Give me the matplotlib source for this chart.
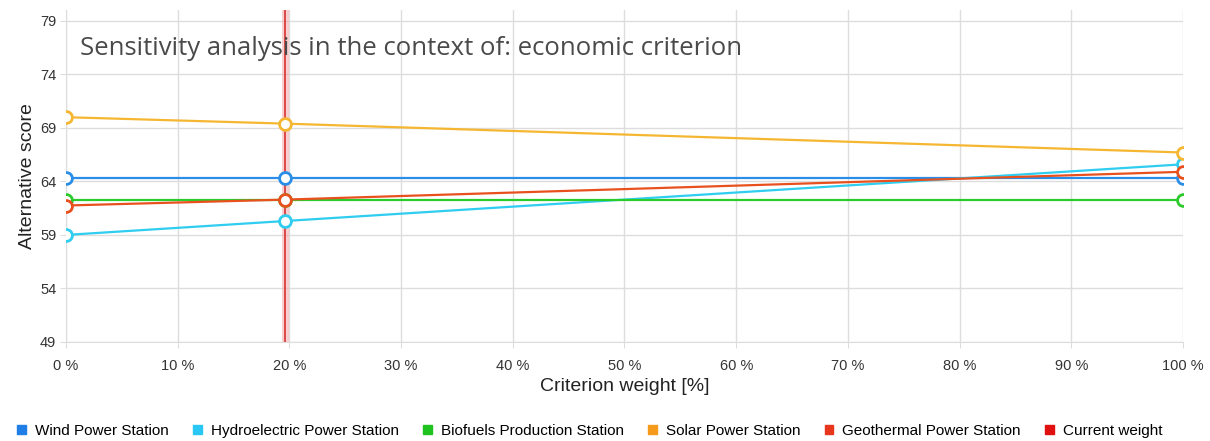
import matplotlib.pyplot as plt
from matplotlib.patches import Patch

# dane z wykresu
weights = [0, 19.6, 100]
current_weight = 19.6
series_names = ["Wind Power Station", "Hydroelectric Power Station", "Biofuels Production Station",
                "Solar Power Station", "Geothermal Power Station"]
wind = [64.3, 64.3, 64.3]
hydro = [59.0, 60.3, 65.6]
biofuels = [62.3, 62.3, 62.3]
solar = [70.0, 69.4, 66.7]
geothermal = [61.75, 62.3, 64.9]
colors = ["#2a8ee8", "#2fcdf0", "#2ccb2c", "#f5b732", "#e8501e"]
legend_colors = ["#1f7fe6", "#29c8f4", "#1fc21f", "#f59a1a", "#e8361c", "#e01010"]
x_ticks = list(range(0, 101, 10))
y_ticks = [49, 54, 59, 64, 69, 74, 79]

fig = plt.figure(figsize=(12.1, 4.41), dpi=100)
ax = fig.add_axes([0.0545, 0.2245, 0.9232, 0.7525])

# linia aktualnej wagi
ax.axvline(current_weight, color="#f4a0a0", lw=5, alpha=0.5, zorder=1)
ax.axvline(current_weight, color="#d84040", lw=1.3, zorder=2)

for vals, c in zip([wind, hydro, biofuels, solar, geothermal], colors):
    ax.plot(weights, vals, color=c, lw=1.6, marker="o", ms=8.5, mfc="white",
            mec=c, mew=2, zorder=3)

ax.set_xlim(0, 100)
ax.set_ylim(49, 80)
ax.set_xticks(x_ticks)
ax.set_xticklabels([f"{t} %" for t in x_ticks], fontsize=10.5, family="Liberation Sans")
ax.set_yticks(y_ticks)
ax.set_yticklabels([str(t) for t in y_ticks], fontsize=10.5, family="Liberation Sans")
ax.tick_params(axis="both", length=4, color="#dddddd", colors="#333333")
ax.tick_params(axis="x", pad=8)
ax.tick_params(axis="y", pad=3)
ax.grid(True, color="#dddddd", lw=1)
ax.set_axisbelow(True)
for s in ["top", "right"]:
    ax.spines[s].set_visible(False)
for s in ["left", "bottom"]:
    ax.spines[s].set_color("#dddddd")

ax.set_xlabel("Criterion weight [%]", fontsize=14, family="Liberation Sans", color="#222222", labelpad=4)
ax.set_ylabel("Alternative score", fontsize=14, family="Liberation Sans", color="#222222", labelpad=3)

ax.text(0.013, 0.885, "Sensitivity analysis in the context of: economic criterion",
        transform=ax.transAxes, fontsize=18.5, family="Open Sans", color="#4a4a4a", va="center")

handles = [Patch(color=c) for c in legend_colors]
labels = series_names + ["Current weight"]
fig.legend(handles, labels, loc="lower left", bbox_to_anchor=(0.003, -0.025), ncol=6, frameon=False,
           handlelength=0.55, handleheight=0.55, handletextpad=0.6, columnspacing=1.6,
           prop={"family": "Liberation Sans", "size": 11})

fig.savefig("out.png", dpi=100)
